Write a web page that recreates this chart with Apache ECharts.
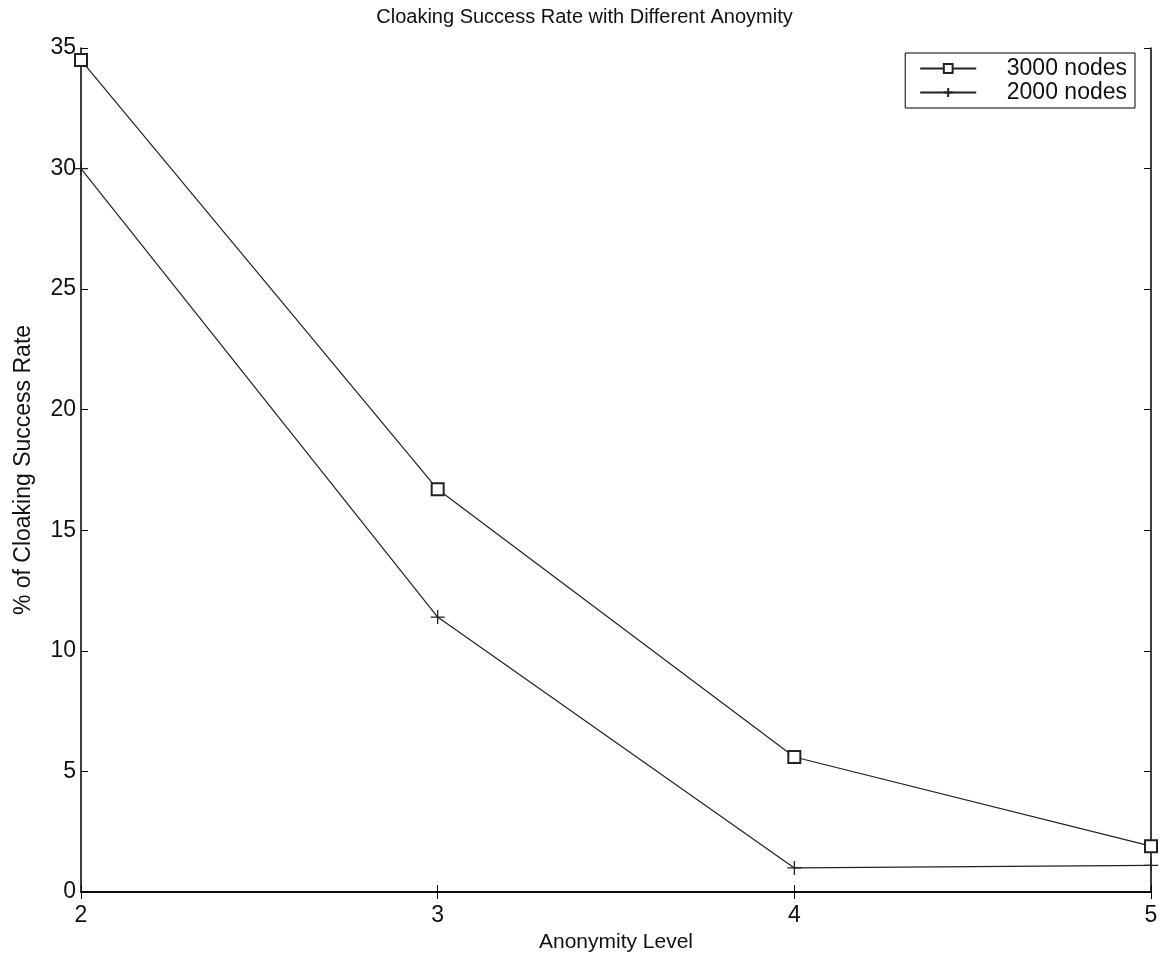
<!DOCTYPE html>
<html>
<head>
<meta charset="utf-8">
<script src="https://cdn.jsdelivr.net/npm/echarts@6/dist/echarts.min.js"></script>
<style>
  html, body { margin: 0; padding: 0; background: #fff; }
  #chart { width: 1169px; height: 958px; }
</style>
</head>
<body>
<div id="chart"></div>
<script>
// anonymity levels on the x axis
const levels = [2, 3, 4, 5]
// % of cloaking success rate
const nodes3000 = [34.5, 16.7, 5.6, 1.9]
const nodes2000 = [30.0, 11.4, 1.0, 1.1]
const seriesNames = ['3000 nodes', '2000 nodes']

const font = 'Arial, "Liberation Sans", sans-serif'
const plusPath = 'path://M0,5 L10,5 M5,0 L5,10'

const chart = echarts.init(document.getElementById('chart'))

const pairs = (ys) => levels.map((x, i) => [x, ys[i]])

const tickStyle = { show: true, inside: true, length: 7, lineStyle: { color: '#000', width: 1 } }

chart.setOption({
  animation: false,
  backgroundColor: '#fff',
  title: {
    text: 'Cloaking Success Rate with Different Anoymity',
    left: 'center',
    top: 2,
    textStyle: { fontFamily: font, fontSize: 20, fontWeight: 'normal', color: '#111' }
  },
  legend: {
    data: seriesNames,
    orient: 'vertical',
    right: 34,
    top: 53,
    itemWidth: 56,
    itemHeight: 11,
    itemGap: 1,
    padding: [4, 8, 4, 14],
    borderColor: '#000',
    borderWidth: 1,
    backgroundColor: '#fff',
    formatter: (name) => '    ' + name,
    textStyle: { fontFamily: font, fontSize: 23, color: '#111' }
  },
  grid: { left: 81, right: 18, top: 48, bottom: 66, outerBoundsMode: 'none', containLabel: false },
  xAxis: [
    {
      type: 'value',
      min: 2, max: 5, interval: 1,
      name: 'Anonymity Level',
      nameLocation: 'middle',
      nameGap: 40,
      nameTextStyle: { fontFamily: font, fontSize: 21, color: '#111' },
      axisLine: { lineStyle: { color: '#000', width: 1.5 } },
      axisTick: tickStyle,
      axisLabel: { fontFamily: font, fontSize: 23, color: '#111', margin: 12 },
      splitLine: { show: false }
    },
    {
      type: 'value',
      position: 'top',
      min: 2, max: 5, interval: 1,
      axisLine: { lineStyle: { color: '#000', width: 1.5 } },
      axisTick: tickStyle,
      axisLabel: { show: false },
      splitLine: { show: false }
    }
  ],
  yAxis: [
    {
      type: 'value',
      min: 0, max: 35, interval: 5,
      name: '% of Cloaking Success Rate',
      nameLocation: 'middle',
      nameGap: 46,
      nameTextStyle: { fontFamily: font, fontSize: 23, color: '#111' },
      axisLine: { show: true, lineStyle: { color: '#000', width: 1.5 } },
      axisTick: tickStyle,
      axisLabel: { fontFamily: font, fontSize: 23, color: '#111', margin: 5 },
      splitLine: { show: false }
    },
    {
      type: 'value',
      position: 'right',
      min: 0, max: 35, interval: 5,
      axisLine: { show: true, lineStyle: { color: '#000', width: 1.5 } },
      axisTick: tickStyle,
      axisLabel: { show: false },
      splitLine: { show: false }
    }
  ],
  series: [
    {
      name: seriesNames[0],
      type: 'line',
      data: pairs(nodes3000),
      symbol: 'emptyRect',
      symbolSize: 12,
      lineStyle: { color: '#222', width: 1.2 },
      itemStyle: { color: '#222', borderWidth: 1.2 }
    },
    {
      name: seriesNames[1],
      type: 'line',
      data: pairs(nodes2000),
      symbol: plusPath,
      symbolSize: 14,
      lineStyle: { color: '#222', width: 1.2 },
      itemStyle: { color: '#222', borderColor: '#222', borderWidth: 1.3 }
    }
  ]
})
</script>
</body>
</html>
